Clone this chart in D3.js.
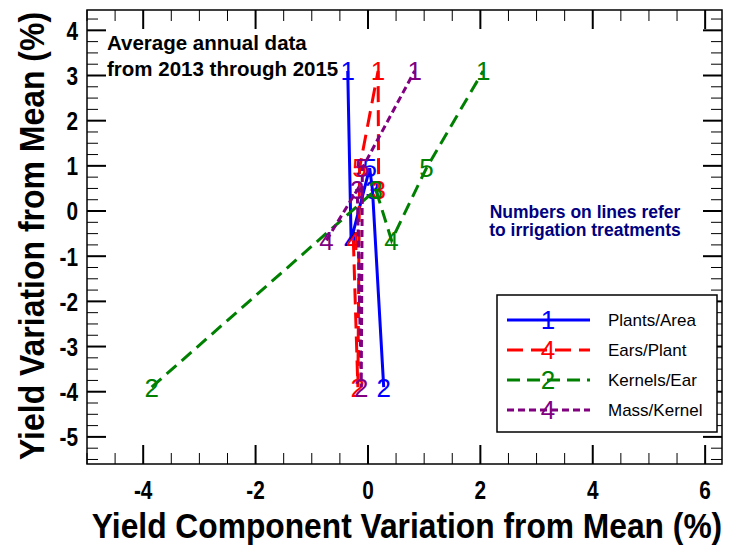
<!DOCTYPE html>
<html>
<head>
<meta charset="utf-8">
<script src="https://cdn.jsdelivr.net/npm/d3@7"></script>
<style>
  body { margin: 0; background: #fff; }
  text { font-family: Arial, "Liberation Sans", sans-serif; }
</style>
</head>
<body>
<div id="chart"></div>
<script>
// yield variation (%) for irrigation treatments 1..5
var treatments = [1, 2, 3, 4, 5]
var yieldVar = [3.1, -3.9, 0.47, -0.65, 0.95]

// component variation (%) per treatment 1..5
var plantsArea = [-0.36, 0.28, 0.08, -0.3, 0.03]
var earsPlant = [0.18, -0.18, 0.19, -0.26, -0.15]
var kernelsEar = [2.05, -3.85, 0.14, 0.42, 1.04]
var massKernel = [0.83, -0.12, -0.19, -0.74, -0.1]

var seriesNames = ["Plants/Area", "Ears/Plant", "Kernels/Ear", "Mass/Kernel"]
var seriesColors = ["#0000ff", "#ff0000", "#008000", "#800080"]
var seriesDash = [null, "16,8", "13,7", "7,4"]
var legendMarks = ["1", "4", "2", "4"]

var xTicks = [-4, -2, 0, 2, 4, 6]
var yTicks = [-5, -4, -3, -2, -1, 0, 1, 2, 3, 4]

var width = 730, height = 552
var margin = {top: 10, right: 8, bottom: 88, left: 87}

var svg = d3.select("#chart").append("svg")
    .attr("width", width)
    .attr("height", height)

var x = d3.scaleLinear().domain([-5, 6.3]).range([margin.left, width - margin.right])
var y = d3.scaleLinear().domain([-5.6, 4.45]).range([height - margin.bottom, margin.top])

var x0 = x.range()[0], x1 = x.range()[1]
var y0 = y.range()[0], y1 = y.range()[1]

// ticks (inside, on all four sides)
var ax = svg.append("g").attr("stroke", "#000")
d3.range(-5, 6.31, 0.5).forEach(function (v) {
  var major = Math.abs(v % 2) < 1e-9
  var len = major ? 19 : 11
  var sw = major ? 2 : 1
  ax.append("line").attr("x1", x(v)).attr("x2", x(v)).attr("y1", y0).attr("y2", y0 - len).attr("stroke-width", sw)
  ax.append("line").attr("x1", x(v)).attr("x2", x(v)).attr("y1", y1).attr("y2", y1 + len).attr("stroke-width", sw)
})
d3.range(-5.5, 4.46, 0.25).forEach(function (v) {
  var major = Math.abs(v - Math.round(v)) < 1e-9
  var len = major ? 19 : 11
  var sw = major ? 2 : 1
  ax.append("line").attr("y1", y(v)).attr("y2", y(v)).attr("x1", x0).attr("x2", x0 + len).attr("stroke-width", sw)
  ax.append("line").attr("y1", y(v)).attr("y2", y(v)).attr("x1", x1).attr("x2", x1 - len).attr("stroke-width", sw)
})

svg.append("rect")
    .attr("x", x0).attr("y", y1)
    .attr("width", x1 - x0).attr("height", y0 - y1)
    .attr("fill", "none").attr("stroke", "#000").attr("stroke-width", 1.5)

// tick labels, narrow bold glyphs
svg.append("g").selectAll("g")
    .data(xTicks).enter().append("g")
    .attr("transform", function (d) { return "translate(" + x(d) + "," + (y0 + 35) + ") scale(0.8,1)" })
  .append("text")
    .attr("text-anchor", "middle")
    .attr("font-size", 26).attr("font-weight", "bold")
    .text(function (d) { return d })

svg.append("g").selectAll("g")
    .data(yTicks).enter().append("g")
    .attr("transform", function (d) { return "translate(" + (x0 - 9) + "," + y(d) + ") scale(0.8,1)" })
  .append("text")
    .attr("dy", "0.36em")
    .attr("text-anchor", "end")
    .attr("font-size", 26).attr("font-weight", "bold")
    .text(function (d) { return d })

// axis titles: tall, slightly narrow
svg.append("g")
    .attr("transform", "translate(407,538) scale(1.03,1.13)")
  .append("text")
    .attr("text-anchor", "middle")
    .attr("font-size", 31).attr("font-weight", "bold")
    .attr("textLength", 612).attr("lengthAdjust", "spacingAndGlyphs")
    .text("Yield Component Variation from Mean (%)")

svg.append("g")
    .attr("transform", "translate(44,236) rotate(-90) scale(1.03,1.13)")
  .append("text")
    .attr("text-anchor", "middle")
    .attr("font-size", 31).attr("font-weight", "bold")
    .attr("textLength", 435).attr("lengthAdjust", "spacingAndGlyphs")
    .text("Yield Variation from Mean (%)")

// series lines, points joined in order of x
var allSeries = [plantsArea, earsPlant, kernelsEar, massKernel]
var line = d3.line().x(function (d) { return x(d.x) }).y(function (d) { return y(d.y) })

allSeries.forEach(function (vals, i) {
  var pts = treatments.map(function (t, j) { return {t: t, x: vals[j], y: yieldVar[j]} })
  var sorted = pts.slice().sort(function (a, b) { return a.x - b.x })
  svg.append("path")
      .datum(sorted)
      .attr("d", line)
      .attr("fill", "none")
      .attr("stroke", seriesColors[i])
      .attr("stroke-width", 3)
      .attr("stroke-dasharray", seriesDash[i])
  svg.append("g").selectAll("text")
      .data(pts).enter().append("text")
      .attr("x", function (d) { return x(d.x) })
      .attr("y", function (d) { return y(d.y) })
      .attr("dy", "0.36em")
      .attr("text-anchor", "middle")
      .attr("font-size", 26)
      .attr("fill", seriesColors[i])
      .text(function (d) { return d.t })
})

svg.append("text").attr("x", 107).attr("y", 50)
    .attr("font-size", 20.5).attr("font-weight", "bold")
    .text("Average annual data")
svg.append("text").attr("x", 107).attr("y", 76)
    .attr("font-size", 20.5).attr("font-weight", "bold")
    .text("from 2013 through 2015")

svg.append("text").attr("x", 585).attr("y", 218)
    .attr("text-anchor", "middle").attr("fill", "#000080")
    .attr("font-size", 17.5).attr("font-weight", "bold")
    .text("Numbers on lines refer")
svg.append("text").attr("x", 585).attr("y", 236)
    .attr("text-anchor", "middle").attr("fill", "#000080")
    .attr("font-size", 17.5).attr("font-weight", "bold")
    .text("to irrigation treatments")

// legend
var legend = svg.append("g").attr("transform", "translate(497,295)")
legend.append("rect")
    .attr("width", 220).attr("height", 137)
    .attr("fill", "#fff").attr("stroke", "#000").attr("stroke-width", 1.5)

seriesNames.forEach(function (name, i) {
  var ly = 25 + i * 30
  legend.append("line")
      .attr("x1", 10).attr("x2", 93).attr("y1", ly).attr("y2", ly)
      .attr("stroke", seriesColors[i]).attr("stroke-width", 3)
      .attr("stroke-dasharray", seriesDash[i])
  legend.append("text")
      .attr("x", 51).attr("y", ly).attr("dy", "0.36em")
      .attr("text-anchor", "middle").attr("font-size", 26)
      .attr("fill", seriesColors[i])
      .text(legendMarks[i])
  legend.append("text")
      .attr("x", 111).attr("y", ly).attr("dy", "0.35em")
      .attr("font-size", 17)
      .text(name)
})
</script>
</body>
</html>
